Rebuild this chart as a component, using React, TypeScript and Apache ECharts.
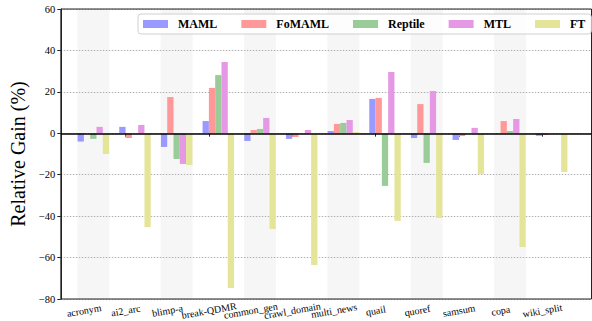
import React, { useEffect, useRef } from "react";
import * as echarts from "echarts";

const categories = [
  "acronym", "ai2_arc", "blimp-a", "break-QDMR", "common_gen", "crawl_domain",
  "multi_news", "quail", "quoref", "samsum", "copa", "wiki_split",
];
const seriesNames = ["MAML", "FoMAML", "Reptile", "MTL", "FT"];
const maml = [-4.0, 3.1, -6.6, 5.9, -3.7, -2.7, 1.1, 16.6, -2.3, -3.2, 0, -1.2];
const fomaml = [0, -2.3, 17.5, 21.9, 1.6, -1.8, 4.5, 17.1, 14.1, -1.3, 5.9, -0.8];
const reptile = [-2.7, 0, -12.4, 28.1, 2.1, 0, 5.0, -25.4, -14.3, 0, 1.1, 0];
const mtl = [3.1, 4.0, -14.8, 34.4, 7.4, 1.6, 6.4, 29.6, 20.4, 2.6, 6.9, 0];
const ft = [-10.0, -45.3, -15.3, -74.7, -46.2, -63.6, 0.6, -42.3, -40.9, -19.6, -54.9, -18.7];
const seriesValues = [maml, fomaml, reptile, mtl, ft];
const colors = ["#9999ff", "#ff9999", "#99cc99", "#e599e5", "#e5e599"];
const yMin = -80;
const yMax = 60;
const yStep = 20;

const FONT = "Liberation Serif";

export default function App() {
  const ref = useRef<HTMLDivElement>(null);
  useEffect(() => {
    if (!ref.current) return;
    const chart = echarts.init(ref.current, null, { renderer: "svg" });
    const top = 9;
    const bottom = 22;
    const frameGrid = { left: 53, right: 0.5, top, bottom, show: true, borderColor: "#222", borderWidth: 1, backgroundColor: "transparent", z: 5 };
    const barGrid = { left: 72.5, width: 500, top, bottom };
    const labelGrid = { left: 63.2, width: 500, top, bottom };
    const hiddenY = (gi: number) => ({ type: "value", gridIndex: gi, min: yMin, max: yMax, show: false });
    const bars = seriesNames.map((name, i) => ({
      name,
      type: "bar",
      xAxisIndex: 1,
      yAxisIndex: 1,
      data: seriesValues[i],
      barWidth: 6.3,
      barGap: "0%",
      itemStyle: { color: colors[i] },
      z: 3,
    }));
    const shadeUp = categories.map((_, i) => (i % 2 === 0 ? yMax : null));
    const shadeDown = categories.map((_, i) => (i % 2 === 0 ? yMin : null));
    const option: any = {
      animation: false,
      textStyle: { fontFamily: FONT },
      grid: [frameGrid, barGrid, barGrid, labelGrid],
      legend: {
        data: seriesNames,
        left: 138,
        top: 14,
        itemWidth: 25,
        itemHeight: 8,
        itemGap: 24,
        padding: [4, 6, 4, 5],
        borderColor: "#d0d0d0",
        borderWidth: 1,
        borderRadius: 3,
        backgroundColor: "rgba(255,255,255,0.8)",
        icon: "rect",
        textStyle: { fontFamily: FONT, fontWeight: "bold", fontSize: 12, color: "#000", padding: [0, 0, 0, 5] },
        z: 10,
      },
      xAxis: [
        { type: "value", gridIndex: 0, min: 0, max: 1, show: false },
        { type: "category", gridIndex: 1, data: categories, show: false },
        { type: "category", gridIndex: 2, data: categories, show: false },
        {
          type: "category",
          gridIndex: 3,
          data: categories,
          axisLine: { show: false },
          axisTick: { show: true, alignWithLabel: true, length: 3.5, lineStyle: { color: "#222" } },
          axisLabel: {
            interval: 0,
            rotate: 10,
            align: "center",
            verticalAlign: "middle",
            margin: 12,
            fontFamily: FONT,
            fontSize: 10,
            color: "#000",
            hideOverlap: false,
          },
        },
      ],
      yAxis: [
        {
          type: "value",
          gridIndex: 0,
          min: yMin,
          max: yMax,
          interval: yStep,
          name: "Relative Gain (%)",
          nameLocation: "middle",
          nameGap: 27,
          nameTextStyle: { fontFamily: FONT, fontSize: 20, color: "#000" },
          axisLine: { show: true, lineStyle: { color: "#222" } },
          axisTick: { show: true, length: 3.5, lineStyle: { color: "#222" } },
          axisLabel: {
            margin: 5.5,
            fontFamily: FONT,
            fontSize: 10.5,
            color: "#000",
            formatter: (v: number) => String(v).replace("-", "\u2212"),
          },
          splitLine: { show: true, lineStyle: { color: "#b0b0b0", type: [1.5, 1.5], width: 1 } },
          z: 2,
        },
        hiddenY(1),
        hiddenY(2),
        hiddenY(3),
      ],
      series: [
        {
          type: "bar",
          xAxisIndex: 2,
          yAxisIndex: 2,
          stack: "shade",
          data: shadeUp,
          barWidth: 32,
          itemStyle: { color: "#f6f6f6" },
          silent: true,
          z: 1,
        },
        {
          type: "bar",
          xAxisIndex: 2,
          yAxisIndex: 2,
          stack: "shade",
          data: shadeDown,
          barWidth: 32,
          itemStyle: { color: "#f6f6f6" },
          silent: true,
          z: 1,
        },
        ...bars,
        {
          type: "line",
          xAxisIndex: 0,
          yAxisIndex: 0,
          data: [],
          silent: true,
          z: 4,
          markLine: {
            silent: true,
            symbol: "none",
            label: { show: false },
            lineStyle: { color: "#000", width: 1.5, type: "solid" },
            data: [{ yAxis: 0 }],
          },
        },
      ],
    };
    chart.setOption(option);
    return () => chart.dispose();
  }, []);
  return <div ref={ref} style={{ position: "absolute", left: 0, top: 0, width: 592, height: 321 }} />;
}
